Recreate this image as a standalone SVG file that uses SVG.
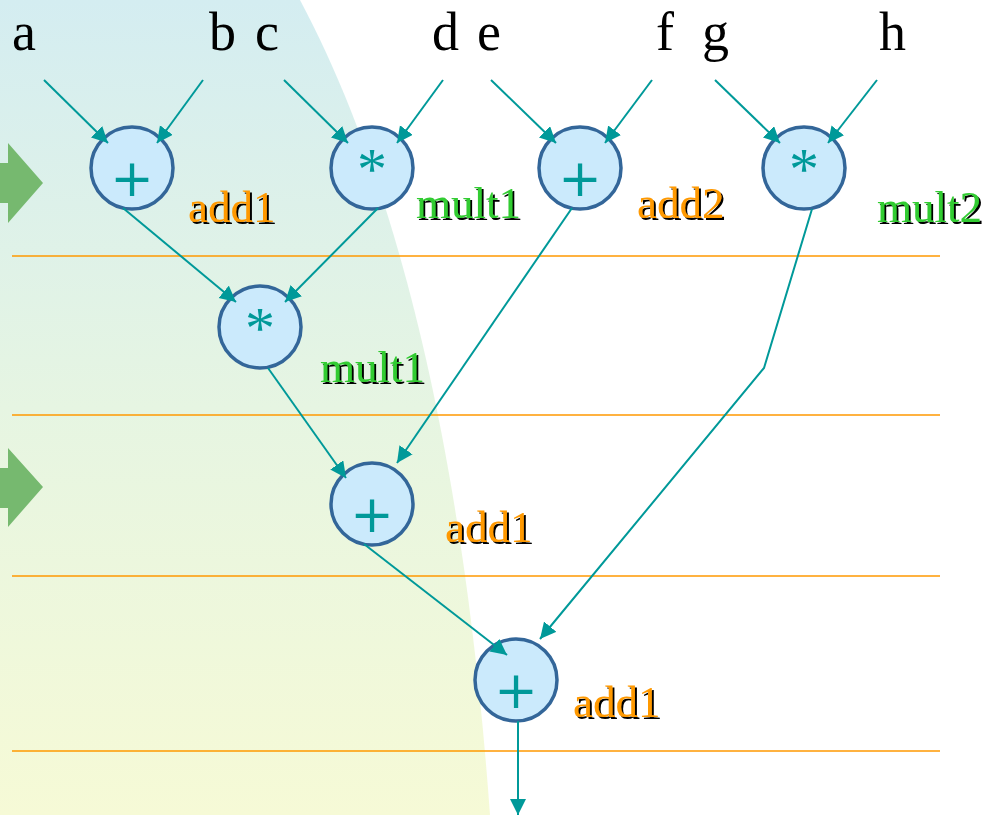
<svg xmlns="http://www.w3.org/2000/svg" width="992" height="815" viewBox="0 0 992 815">
<style>
.node circle{fill:#cbeafc;stroke:#336699;stroke-width:3.5}
.op{font-family:"DejaVu Sans",sans-serif;font-size:52px;fill:#009999;text-anchor:middle}
.ast{font-family:"Liberation Serif","Times New Roman",Tinos,"Nimbus Roman","FreeSerif","DejaVu Serif",serif;font-size:60px;fill:#009999;text-anchor:middle}
.lbl{font-family:"Liberation Serif","Times New Roman",Tinos,"Nimbus Roman","FreeSerif","DejaVu Serif",serif;font-size:45px;filter:url(#ds)}
.or{fill:#ff9900}
.gr{fill:#33cc33}
.in{font-family:"Liberation Serif","Times New Roman",Tinos,"Nimbus Roman","FreeSerif","DejaVu Serif",serif;font-size:54px;fill:#000}
.hl{stroke:#ff9900;stroke-width:1.5}
.edges line,.edges polyline{stroke:#009999;stroke-width:2;fill:none;marker-end:url(#ah)}
.ga{fill:#76b96f}
</style>
<defs>
<linearGradient id="bg" x1="0" y1="0" x2="0" y2="1">
<stop offset="0" stop-color="#d4edf1"/>
<stop offset="0.5" stop-color="#e6f5e2"/>
<stop offset="1" stop-color="#f6fad6"/>
</linearGradient>
<filter id="ds" x="-10%" y="-20%" width="130%" height="150%">
<feOffset in="SourceAlpha" dx="2" dy="2" result="o"/>
<feMerge><feMergeNode in="o"/><feMergeNode in="SourceGraphic"/></feMerge>
</filter>
<marker id="ah" markerUnits="userSpaceOnUse" markerWidth="18" markerHeight="18" refX="16" refY="8" orient="auto">
<path d="M0,0 L16,8 L0,16 Z" fill="#009999"/>
</marker>
</defs>
<rect width="992" height="815" fill="#fff"/>
<path d="M0,0 L300,0 C380,150 460,400 490,815 L0,815 Z" fill="url(#bg)"/>
<g id="stage-arrows">
<path class="ga" d="M0,163 L8,163 L8,143 L43,183 L8,223 L8,203 L0,203 Z"/>
<path class="ga" d="M0,468 L8,468 L8,448 L43,487 L8,527 L8,508 L0,508 Z"/>
</g>
<g id="stage-lines">
<line class="hl" x1="12" y1="256" x2="940" y2="256"/>
<line class="hl" x1="12" y1="415" x2="940" y2="415"/>
<line class="hl" x1="12" y1="576" x2="940" y2="576"/>
<line class="hl" x1="12" y1="751" x2="940" y2="751"/>
</g>
<g id="inputs">
<text class="in" x="12" y="50">a</text>
<text class="in" x="209" y="50">b</text>
<text class="in" x="255" y="50">c</text>
<text class="in" x="432" y="50">d</text>
<text class="in" x="477" y="50">e</text>
<text class="in" x="656" y="50">f</text>
<text class="in" x="702" y="50">g</text>
<text class="in" x="879" y="50">h</text>
</g>
<g class="node" id="add1-s1">
<circle cx="132" cy="168" r="41"/>
<text class="op" x="132" y="196">+</text>
<text class="lbl or" x="188" y="222">add1</text>
</g>
<g class="node" id="mult1-s1">
<circle cx="372" cy="168" r="41"/>
<text class="ast" x="372" y="189">*</text>
<text class="lbl gr" x="416" y="218">mult1</text>
</g>
<g class="node" id="add2-s1">
<circle cx="580" cy="168" r="41"/>
<text class="op" x="580" y="196">+</text>
<text class="lbl or" x="637" y="218">add2</text>
</g>
<g class="node" id="mult2-s1">
<circle cx="804" cy="168" r="41"/>
<text class="ast" x="804" y="189">*</text>
<text class="lbl gr" x="877" y="222">mult2</text>
</g>
<g class="node" id="mult1-s2">
<circle cx="260" cy="327" r="41"/>
<text class="ast" x="260" y="348">*</text>
<text class="lbl gr" x="320" y="382">mult1</text>
</g>
<g class="node" id="add1-s3">
<circle cx="372" cy="504" r="41"/>
<text class="op" x="372" y="532">+</text>
<text class="lbl or" x="445" y="542">add1</text>
</g>
<g class="node" id="add1-s4">
<circle cx="516" cy="680" r="41"/>
<text class="op" x="516" y="708">+</text>
<text class="lbl or" x="573" y="717">add1</text>
</g>
<g class="edges" id="connectors">
<line x1="44" y1="80" x2="108" y2="143"/>
<line x1="203" y1="80" x2="157" y2="143"/>
<line x1="284" y1="80" x2="348" y2="143"/>
<line x1="443" y1="80" x2="397" y2="143"/>
<line x1="491" y1="80" x2="556" y2="143"/>
<line x1="652" y1="80" x2="605" y2="143"/>
<line x1="715" y1="80" x2="780" y2="143"/>
<line x1="877" y1="80" x2="828" y2="143"/>
<line x1="123" y1="208" x2="236" y2="302"/>
<line x1="378" y1="208" x2="285" y2="302"/>
<line x1="268" y1="368" x2="346" y2="478"/>
<line x1="572" y1="208" x2="397" y2="463"/>
<polyline points="812,209 764,368 540,639"/>
<line x1="364" y1="544" x2="507" y2="655"/>
<line x1="518" y1="721" x2="518" y2="815"/>
</g>
</svg>
